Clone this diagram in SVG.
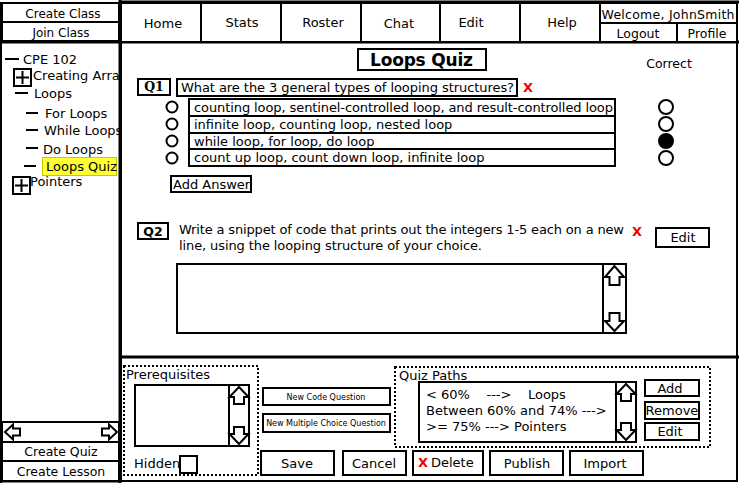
<svg xmlns="http://www.w3.org/2000/svg" width="739" height="483" viewBox="0 0 739 483">
<style>
text{font-family:"DejaVu Sans","Liberation Sans",sans-serif;font-size:13px;fill:#000}
.box{fill:#fff;stroke:#000;stroke-width:2}
.thick{fill:none;stroke:#000;stroke-width:3}
.dot{fill:none;stroke:#000;stroke-width:2;stroke-dasharray:2,2}
.c{text-anchor:middle}
.arr{fill:#fff;stroke:#000;stroke-width:2;stroke-linejoin:miter}
.red{fill:#e00;font-weight:bold;font-size:13px}
.dash{stroke:#000;stroke-width:2}
.sm{font-size:8px}
.s12{font-size:12px}
.s125{font-size:12.5px}
</style>
<rect width="739" height="483" fill="#fff"/>
<g id="frame">
<rect x="121" y="2" width="616" height="479" class="box"/>
<line x1="120" y1="0" x2="120" y2="483" class="thick"/>
<line x1="120" y1="2" x2="739" y2="2" class="thick"/>
<line x1="120" y1="42" x2="739" y2="42" class="thick"/>
<line x1="0" y1="42" x2="120" y2="42" class="thick"/>
<line x1="121" y1="357" x2="739" y2="357" class="thick"/>
<line x1="0" y1="481" x2="120" y2="481" class="thick"/>
<line x1="1" y1="2" x2="1" y2="483" stroke="#000" stroke-width="2"/>
</g>
<g id="left-top">
<rect x="2" y="3" width="117" height="19" class="box"/>
<text x="63" y="18" class="c s12">Create Class</text>
<rect x="2" y="22" width="117" height="19" class="box"/>
<text x="61" y="37" class="c s12">Join Class</text>
</g>
<g id="nav">
<rect x="121" y="3" width="80" height="39" class="box"/><text x="163" y="28" class="c">Home</text>
<rect x="201" y="3" width="80" height="39" class="box"/><text x="242" y="27" class="c">Stats</text>
<rect x="281" y="3" width="80" height="39" class="box"/><text x="323" y="27" class="c">Roster</text>
<rect x="361" y="3" width="79" height="39" class="box"/><text x="399" y="28" class="c">Chat</text>
<rect x="440" y="3" width="80" height="39" class="box"/><text x="471" y="27" class="c">Edit</text>
<rect x="520" y="3" width="80" height="39" class="box"/><text x="562" y="27" class="c">Help</text>
<rect x="600" y="3" width="137" height="20" class="box"/><text x="668" y="19" class="c s125" textLength="133">Welcome, JohnSmith</text>
<rect x="600" y="23" width="77" height="19" class="box"/><text x="638" y="38" class="c s125">Logout</text>
<rect x="677" y="23" width="60" height="19" class="box"/><text x="707" y="38" class="c s125">Profile</text>
</g>
<g id="tree">
<line x1="5" y1="59" x2="19" y2="59" class="dash"/><text x="23" y="64">CPE 102</text>
<rect x="14" y="69" width="17" height="17" class="box"/><path d="M16 77.5H29M22.5 71V84" class="dash"/>
<text x="33" y="80">Creating Arra</text>
<line x1="15" y1="93" x2="28" y2="93" class="dash"/><text x="34" y="98">Loops</text>
<line x1="26" y1="113" x2="38" y2="113" class="dash"/><text x="45" y="118">For Loops</text>
<line x1="26" y1="130" x2="38" y2="130" class="dash"/><text x="44" y="135">While Loops</text>
<line x1="26" y1="148" x2="38" y2="148" class="dash"/><text x="43" y="154">Do Loops</text>
<line x1="24" y1="166" x2="36" y2="166" class="dash"/>
<rect x="42.5" y="157.5" width="74" height="18" fill="#ffff33" stroke="#c8c800" stroke-width="1"/>
<text x="46" y="171">Loops Quiz</text>
<rect x="13" y="177" width="17" height="17" class="box"/><path d="M15 185.5H28M21.5 179V192" class="dash"/>
<text x="30" y="186">Pointers</text>
</g>
<g id="left-bottom">
<rect x="2" y="422" width="117" height="20" class="box"/>
<polygon points="5,432 13,424.5 13,428.5 20,428.5 20,435.5 13,435.5 13,439.5" class="arr"/>
<polygon points="117,432 109,424.5 109,428.5 102,428.5 102,435.5 109,435.5 109,439.5" class="arr"/>
<rect x="2" y="442" width="117" height="19" class="box"/><text x="61" y="456" class="c s125">Create Quiz</text>
<rect x="2" y="461" width="117" height="20" class="box"/><text x="61" y="476" class="c s125">Create Lesson</text>
</g>
<g id="title">
<rect x="358" y="49" width="128" height="21" class="box"/>
<text x="370" y="66" style="font-size:17px;font-weight:bold" textLength="103">Loops Quiz</text>
<text x="669" y="68" class="c s125">Correct</text>
</g>
<g id="q1">
<rect x="138" y="79" width="32" height="16" class="box"/>
<text x="154" y="91" class="c" style="font-family:'DejaVu Serif',serif;font-weight:bold;font-size:12.5px">Q1</text>
<rect x="177" y="79" width="340" height="17" class="box"/>
<text x="181" y="92" textLength="333">What are the 3 general types of looping structures?</text>
<text x="523" y="92" class="red">X</text>
<circle cx="172" cy="107" r="5.5" class="box"/>
<circle cx="172" cy="124" r="5.5" class="box"/>
<circle cx="172" cy="141" r="5.5" class="box"/>
<circle cx="172" cy="158" r="5.5" class="box"/>
<rect x="189" y="99" width="426" height="17" class="box"/>
<text x="194" y="112" textLength="419">counting loop, sentinel-controlled loop, and result-controlled loop</text>
<rect x="189" y="116" width="426" height="17" class="box"/>
<text x="194" y="129">infinite loop, counting loop, nested loop</text>
<rect x="189" y="133" width="426" height="16" class="box"/>
<text x="194" y="146">while loop, for loop, do loop</text>
<rect x="189" y="149" width="426" height="17" class="box"/>
<text x="194" y="162">count up loop, count down loop, infinite loop</text>
<circle cx="666" cy="107" r="7" class="box"/>
<circle cx="666" cy="124" r="7" class="box"/>
<circle cx="666" cy="141" r="7" fill="#000" stroke="#000" stroke-width="2"/>
<circle cx="666" cy="158" r="7" class="box"/>
<rect x="171" y="176" width="80" height="16" class="box"/>
<text x="173" y="189">Add Answer</text>
</g>
<g id="q2">
<rect x="138" y="223" width="30" height="16" class="box"/>
<text x="153" y="236" class="c" style="font-weight:bold;font-size:12.5px">Q2</text>
<text x="179" y="234" textLength="445">Write a snippet of code that prints out the integers 1-5 each on a new</text>
<text x="179" y="250" textLength="303">line, using the looping structure of your choice.</text>
<text x="632" y="236" class="red">X</text>
<rect x="656" y="228" width="53" height="19" class="box"/>
<text x="683" y="242" class="c">Edit</text>
<rect x="177" y="264" width="449" height="69" class="box"/>
<rect x="603" y="264" width="23" height="69" class="box"/>
<polygon points="614.5,266 605,277 609.5,277 609.5,285 619.5,285 619.5,277 624,277" class="arr"/>
<polygon points="614.5,331 605,321 609.5,321 609.5,313 619.5,313 619.5,321 624,321" class="arr"/>
</g>
<g id="prereq">
<rect x="124" y="366" width="134" height="109" class="dot"/>
<text x="126" y="379">Prerequisites</text>
<rect x="135" y="385" width="114" height="61" class="box"/>
<rect x="229" y="385" width="20" height="61" class="box"/>
<polygon points="239,387 229.5,397 234,397 234,404 244,404 244,397 248.5,397" class="arr"/>
<polygon points="239,444 229.5,434 234,434 234,427 244,427 244,434 248.5,434" class="arr"/>
<text x="134" y="468">Hidden</text>
<rect x="180" y="456" width="17" height="17" class="box"/>
</g>
<g id="new-buttons">
<rect x="263" y="388" width="127" height="17" class="box"/>
<text x="326" y="400" class="c sm">New Code Question</text>
<rect x="263" y="414" width="127" height="18" class="box"/>
<text x="326" y="426" class="c sm">New Multiple Choice Question</text>
</g>
<g id="actions">
<rect x="261" y="451" width="73" height="24" class="box"/><text x="297" y="468" class="c">Save</text>
<rect x="343" y="451" width="63" height="24" class="box"/><text x="374" y="468" class="c">Cancel</text>
<rect x="413" y="451" width="70" height="24" class="box"/>
<text x="418" y="467" class="red">X</text><text x="431" y="467">Delete</text>
<rect x="490" y="451" width="73" height="24" class="box"/><text x="527" y="468" class="c">Publish</text>
<rect x="570" y="451" width="73" height="24" class="box"/><text x="605" y="468" class="c">Import</text>
</g>
<g id="quiz-paths">
<rect x="395" y="367" width="315" height="80" class="dot"/>
<text x="399" y="380">Quiz Paths</text>
<rect x="419" y="382" width="217" height="60" class="box"/>
<rect x="616" y="382" width="20" height="60" class="box"/>
<polygon points="626,384 616.5,394 621,394 621,401 631,401 631,394 635.5,394" class="arr"/>
<polygon points="626,440 616.5,430 621,430 621,423 631,423 631,430 635.5,430" class="arr"/>
<text x="426" y="399" xml:space="preserve">&lt; 60%    ---&gt;    Loops</text>
<text x="426" y="415">Between 60% and 74% ---&gt;</text>
<text x="426" y="431">&gt;= 75% ---&gt; Pointers</text>
<rect x="645" y="380" width="54" height="16" class="box"/><text x="670" y="393" class="c">Add</text>
<rect x="645" y="402" width="54" height="17" class="box"/><text x="672" y="415" class="c">Remove</text>
<rect x="645" y="423" width="54" height="17" class="box"/><text x="670" y="436" class="c">Edit</text>
</g>
</svg>
